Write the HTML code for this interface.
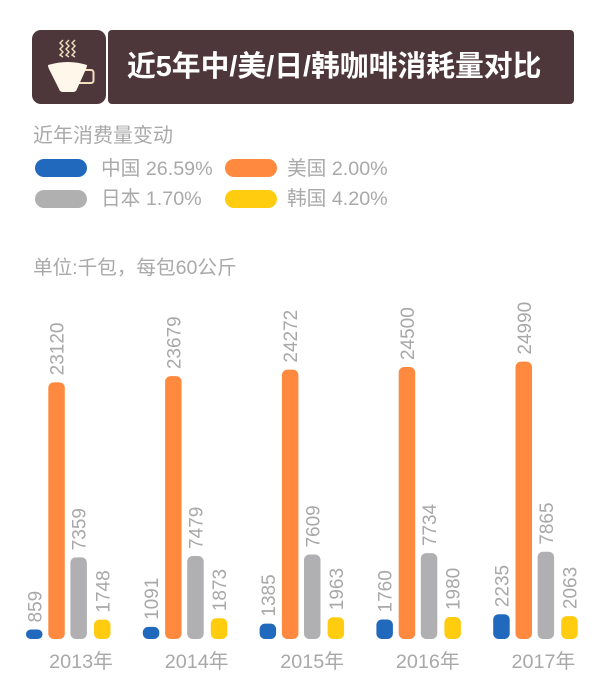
<!DOCTYPE html>
<html>
<head>
<meta charset="utf-8">
<style>
html,body{margin:0;padding:0;background:#fff;}
#root{position:relative;width:600px;height:679px;overflow:hidden;font-family:"Liberation Sans","Noto Sans CJK SC",sans-serif;color:#a3a3a3;}
.abs{position:absolute;white-space:nowrap;}
.pill{position:absolute;width:52px;height:18px;border-radius:9px;}
.leg{position:absolute;font-size:19.7px;line-height:24px;white-space:nowrap;color:#a9a9a9;}
</style>
</head>
<body>
<div id="root">
  <div class="abs" style="left:32px;top:30px;width:74px;height:74px;background:#4e373b;border-radius:9px;">
    <svg width="74" height="74" viewBox="0 0 74 74">
      <g fill="none" stroke="#f3dfc0" stroke-width="1.4">
        <path d="M31 10l-3 3 3 3-3 3 3 3-3 3 3 2"/>
        <path d="M37 10l-3 3 3 3-3 3 3 3-3 3 3 2"/>
        <path d="M43 10l-3 3 3 3-3 3 3 3-3 3 3 2"/>
      </g>
      <path d="M50 40h9a2.5 2.5 0 0 1 2.5 2.5v8a2.5 2.5 0 0 1-2.5 2.5H46" fill="none" stroke="#f3dfc0" stroke-width="2"/>
      <path d="M16 35q20-6 39 0q0 2-1 4l-9 20q-1 3-4 3H31q-3 0-4-3L17 39q-1-2-1-4z" fill="#fff8ea"/>
    </svg>
  </div>
  <div class="abs" style="left:108px;top:30px;width:466px;height:74px;background:#4e373b;border-radius:4px;overflow:hidden;">
    <div class="abs" style="left:19px;top:18px;font-size:28.8px;line-height:38px;font-weight:700;color:#fff;">近5年中/美/日/韩咖啡消耗量对比</div>
  </div>

  <div class="abs" style="left:33px;top:123px;font-size:20px;line-height:26px;color:#a9a9a9;">近年消费量变动</div>

  <div class="pill" style="left:35px;top:159px;background:#2169bd;"></div>
  <div class="leg" style="left:101px;top:157px;">中国 26.59%</div>
  <div class="pill" style="left:225px;top:159px;background:#ff8a3f;"></div>
  <div class="leg" style="left:287px;top:157px;">美国 2.00%</div>
  <div class="pill" style="left:35px;top:190px;background:#b0b0b0;"></div>
  <div class="leg" style="left:101px;top:187px;">日本 1.70%</div>
  <div class="pill" style="left:225px;top:190px;background:#ffcc0f;"></div>
  <div class="leg" style="left:287px;top:187px;">韩国 4.20%</div>

  <div class="abs" style="left:33px;top:255px;font-size:19.6px;line-height:26px;color:#a9a9a9;">单位:千包，每包60公斤</div>

  <svg id="chart" class="abs" style="left:0;top:0;" width="600" height="679" viewBox="0 0 600 679"></svg>
</div>
<script>
var years = ['2013年', '2014年', '2015年', '2016年', '2017年'];
var china = [859, 1091, 1385, 1760, 2235];
var usa = [23120, 23679, 24272, 24500, 24990];
var japan = [7359, 7479, 7609, 7734, 7865];
var korea = [1748, 1873, 1963, 1980, 2063];

var NS = 'http://www.w3.org/2000/svg';
var svg = document.getElementById('chart');
var baseY = 639;
var barW = 16.5;
var seriesList = [
  {key: 'china', values: china, color: '#2169bd', offset: 0},
  {key: 'usa', values: usa, color: '#ff8a3f', offset: 22.3},
  {key: 'japan', values: japan, color: '#b0afb1', offset: 44.4},
  {key: 'korea', values: korea, color: '#ffcc0f', offset: 68}
];
function xScale(groupIndex) { return 26 + groupIndex * 116.8; }
function yearX(groupIndex) { return 81 + groupIndex * 115.6; }
function yScale(v) { return baseY - v * 0.0111; }

years.forEach(function (year, i) {
  var yearLabel = document.createElementNS(NS, 'text');
  
  
  yearLabel.setAttribute('x', yearX(i));
  yearLabel.setAttribute('y', 668);
  yearLabel.setAttribute('text-anchor', 'middle');
  yearLabel.setAttribute('font-size', '19.8');
  yearLabel.setAttribute('fill', '#a8a8a8');
  yearLabel.textContent = year;
  svg.appendChild(yearLabel);

  seriesList.forEach(function (s) {
    var v = s.values[i];
    var top = yScale(v);
    var x = xScale(i) + s.offset;
    var bar = document.createElementNS(NS, 'rect');
    
    
    bar.setAttribute('x', x);
    bar.setAttribute('y', top);
    bar.setAttribute('width', barW);
    bar.setAttribute('height', baseY - top);
    var h = baseY - top;
    var r = Math.min(5.5, h / 2);
    bar.setAttribute('rx', r);
    bar.setAttribute('ry', r);
    bar.setAttribute('fill', s.color);
    svg.appendChild(bar);

    var cx = x + barW / 2 + 7;
    var cy = top - 7;
    var label = document.createElementNS(NS, 'text');
    
    
    label.setAttribute('transform', 'translate(' + cx + ',' + cy + ') rotate(-90)');
    label.setAttribute('font-size', '19');
    label.setAttribute('fill', '#a8a8a8');
    label.textContent = v;
    svg.appendChild(label);
  });
});
</script>
</body>
</html>
